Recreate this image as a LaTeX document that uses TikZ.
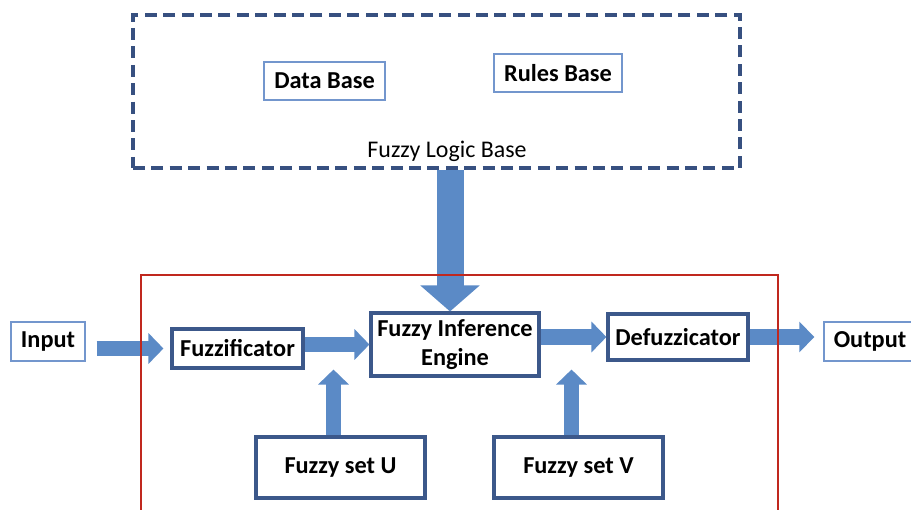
\documentclass[tikz,border=0pt]{standalone}
\usepackage{fontspec}
\setmainfont{Carlito}
\usetikzlibrary{arrows.meta,positioning,calc}
\definecolor{ArrowBlue}{RGB}{91,138,198}
\definecolor{BoxDark}{RGB}{60,88,138}
\definecolor{BoxLight}{RGB}{115,150,205}
\definecolor{BaseDash}{RGB}{55,80,128}
\definecolor{FrameRed}{RGB}{192,40,30}

\begin{document}
\begin{tikzpicture}[x=0.025cm,y=-0.025cm,
        block/.style={draw=BoxDark,line width=2.2pt,fill=white,inner sep=0pt,
                      align=center,font=\fontsize{17.3}{21}\selectfont\bfseries},
        tagbox/.style={draw=BoxLight,line width=1pt,fill=white,inner sep=0pt,
                       font=\fontsize{17.3}{21}\selectfont\bfseries},
        bigarrow/.style={draw=ArrowBlue,line width=0.375cm,
                         -{Triangle[width=0.75cm,length=0.375cm]}},
        hugearrow/.style={draw=ArrowBlue,line width=0.675cm,
                          -{Triangle[width=1.45cm,length=0.65cm]}}
      ]
        \useasboundingbox (0,0) rectangle (911,510);
        \clip (0,0) rectangle (911,510);
        \node[draw=BaseDash,line width=2.6pt,dash pattern=on 0.3cm off 0.16cm,
              minimum width=15.175cm,minimum height=3.825cm] (base) at (436.5,91.5) {};
        \node[tagbox,minimum width=3.025cm,minimum height=0.95cm] (data) at (324.5,81) {Data Base};
        \node[tagbox,minimum width=3.2cm,minimum height=0.95cm] (rules) at (558,73) {Rules Base};
        \node[font=\fontsize{17}{20}\selectfont] (baselbl) at (447,151) {Fuzzy Logic Base};
        \node[tagbox,minimum width=1.85cm,minimum height=0.975cm] (input) at (48,341.5) {Input};
        \node[block,minimum width=3.275cm,minimum height=0.975cm] (fuzz) at (237.5,348.5) {Fuzzificator};
        \node[block,minimum width=4.2cm,minimum height=1.575cm] (fie) at (455,344.5)
          {Fuzzy Inference\\Engine};
        \node[block,minimum width=3.5cm,minimum height=1.15cm] (defuzz) at (678,337) {Defuzzicator};
        \node[tagbox,minimum width=2.3cm,minimum height=0.975cm] (output) at (870,341.5) {Output};
        \node[block,minimum width=4.225cm,minimum height=1.525cm] (setu) at (340.5,467.5) {Fuzzy set U};
        \node[block,minimum width=4.225cm,minimum height=1.525cm] (setv) at (578.5,467.5) {Fuzzy set V};
        \draw[hugearrow] ([xshift=-0.125cm]fie.north |- base.south) -- ([xshift=-0.125cm]fie.north);
        \draw[bigarrow,shorten <=0.275cm,shorten >=0.175cm] (input.east |- fuzz.west) -- (fuzz.west);
        \draw[bigarrow] (fie.west -| fuzz.east) -- (fie.west);
        \draw[bigarrow] (defuzz.west -| fie.east) -- (defuzz.west);
        \draw[bigarrow,shorten >=0.225cm] (defuzz.east) -- (defuzz.east -| output.west);
        \draw[bigarrow] ([xshift=-0.175cm]setu.north) -- ([xshift=-0.175cm]setu.north |- fuzz.south);
        \draw[bigarrow] ([xshift=-0.175cm]setv.north) -- ([xshift=-0.175cm]setv.north |- fuzz.south);
        \draw[FrameRed,line width=1.8pt] (141,530) |- (778,275) -- (778,530);
      \end{tikzpicture}
\end{document}
